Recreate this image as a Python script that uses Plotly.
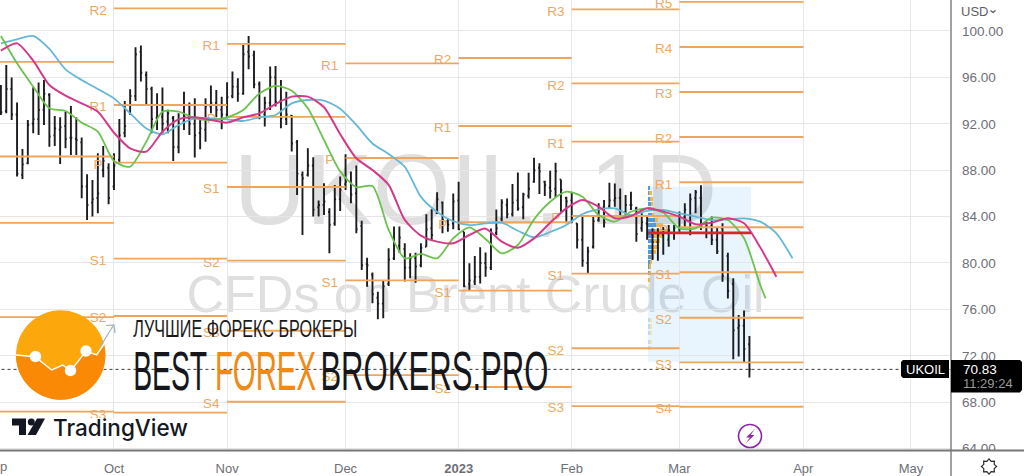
import numpy as np
import plotly.graph_objects as go

# ---------- data ----------
highs = [95.35,97.07,95.98,93.83,89.83,92.33,95.15,95.55,95.78,94.63,92.68,92.56,93.05,93.54,92.56,90.81,87.65,87.16,89.46,90.09,88.6,
89.46,92.42,93.97,94.98,98.6,98.74,96.5,95.2,94.63,95.12,93.2,92.68,92.9,94.77,93.83,94.2,92.39,94.2,95.29,94.92,94.34,
95.58,96.5,95.92,98.8,99.57,98.3,95.64,94.34,96.93,96.99,95.78,94.77,92.76,90.6,87.88,89.89,89.11,85.38,86.87,84.72,86.73,87.45,
89.37,87.88,88.4,83.65,80.46,79.17,77.53,78.54,81.27,83.14,83.14,81.7,80.84,80.89,81.7,84.2,84.63,86.1,85.3,83.85,86.0,
87.0,82.7,79.97,80.6,81.35,80.9,82.98,84.62,85.5,85.57,86.8,87.8,86.06,87.78,89.08,88.6,87.1,87.96,88.65,87.2,85.71,
86.15,83.42,84.13,81.4,84.05,85.14,85.43,86.92,86.86,86.43,85.86,86.15,84.85,84.28,84.0,83.0,83.0,83.1,83.28,83.28,
84.43,85.15,86.0,86.3,86.7,83.57,84.0,83.1,83.42,80.89,78.68,75.52,75.9,73.7]
lows = [92.76,92.9,92.33,87.45,87.25,88.51,91.18,91.04,91.9,90.03,90.09,88.54,89.89,89.31,89.31,85.58,83.71,84.0,84.29,87.39,85.06,
86.3,88.65,90.84,92.76,93.97,95.64,93.6,91.18,91.47,91.18,91.18,88.8,89.46,91.47,91.04,89.1,89.8,90.46,92.9,92.56,91.53,
92.48,94.2,93.9,94.5,96.7,95.06,92.39,91.76,93.19,93.48,91.61,91.9,89.6,85.87,82.42,87.45,84.0,84.0,84.14,80.84,83.22,84.49,
86.3,85.15,82.56,79.4,77.96,76.53,75.15,75.23,78.02,80.26,80.89,78.4,78.68,78.3,79.63,81.4,81.99,84.23,82.56,82.7,82.9,
82.85,77.9,77.67,78.1,78.24,78.82,79.4,82.4,83.56,83.85,84.0,84.5,83.76,85.57,86.92,85.94,85.77,85.57,85.66,84.42,83.42,
83.42,81.26,79.68,79.1,81.26,83.56,83.07,84.71,84.85,84.13,84.0,84.57,81.84,82.7,82.0,80.26,80.2,80.7,81.4,82.0,
82.7,83.13,82.4,84.28,82.85,82.13,81.55,80.78,78.39,76.95,71.7,71.93,71.4,70.14]
opens = [93.8,93.1,95.0,92.8,87.6,88.6,92.0,92.4,93.2,94.5,91.0,91.5,91.8,90.8,90.7,90.4,86.6,85.2,85.6,88.0,88.2,
86.6,88.9,91.2,93.0,94.4,98.2,96.2,95.0,92.5,92.6,92.2,92.5,90.0,92.2,92.5,92.0,91.2,91.5,93.5,93.8,93.2,
92.8,94.4,95.2,94.6,98.2,97.9,95.4,92.8,93.8,96.0,94.0,92.4,92.7,90.4,87.6,87.6,88.4,84.8,85.0,84.4,83.4,85.5,
86.8,87.0,86.0,83.2,79.9,79.0,77.0,76.5,78.2,80.4,81.5,81.2,79.6,80.4,79.8,81.4,83.0,84.3,85.2,83.6,83.4,
85.4,82.7,78.2,78.4,78.8,80.0,79.6,82.6,83.8,85.0,84.2,85.4,84.8,85.8,87.0,88.2,87.0,86.5,86.4,87.2,85.6,
85.4,83.4,82.0,80.0,81.4,83.7,84.8,84.9,85.4,85.6,84.4,85.0,84.7,83.0,83.4,82.5,81.8,82.4,82.0,82.6,
83.0,84.0,83.6,85.6,85.6,83.1,83.2,82.0,83.0,80.6,78.2,74.4,74.6,73.0]
closes = [93.0,95.0,92.8,87.7,88.5,91.9,92.4,93.2,94.6,90.9,91.6,91.7,90.7,90.8,90.6,86.6,85.0,85.5,86.0,88.8,85.6,
88.4,91.0,91.8,94.4,98.0,96.4,95.0,92.4,92.6,92.0,92.9,90.0,92.0,92.6,92.0,91.0,91.6,93.5,93.8,93.2,92.8,
94.3,95.2,94.6,98.0,97.8,95.4,92.6,93.8,96.0,93.9,92.5,92.8,90.3,87.7,87.3,88.4,84.6,85.0,85.3,83.3,85.5,86.3,
87.0,85.9,82.9,79.8,79.8,77.3,76.5,78.0,80.3,81.6,82.2,79.6,80.4,79.7,81.3,82.9,82.4,85.5,83.7,83.3,85.3,
82.9,78.0,78.5,78.8,80.0,79.6,82.6,83.0,85.2,84.2,85.2,84.7,85.9,86.4,88.0,87.9,86.7,86.2,87.9,86.3,85.3,
83.9,82.0,80.2,81.0,83.6,84.8,83.5,85.4,85.6,84.5,85.0,85.0,82.5,83.5,82.5,81.8,82.4,82.6,82.8,83.0,
84.0,84.6,85.5,86.1,83.2,83.2,82.0,81.0,78.9,77.6,74.2,74.6,72.6,70.83]

ma_idx = list(range(0, 148, 3))
ma_blue = [98.93,99.28,99.57,98.45,96.69,95.77,95.0,94.19,92.9,91.6,91.09,91.9,92.47,92.47,92.38,92.24,92.56,92.76,93.76,94.05,94.0,
           93.3,91.9,90.3,89.4,88.3,85.7,84.4,83.6,83.27,83.42,83.47,82.78,82.2,82.67,83.27,84.22,84.62,84.7,84.13,84.5,84.57,84.28,84.0,83.7,83.77,83.85,83.56,82.56,80.4]
ma_pink = [98.3,98.93,97.44,95.34,94.42,93.76,93.04,91.23,89.88,89.6,91.32,92.38,92.56,92.33,92.1,92.56,92.9,93.7,94.34,94.34,93.42,
           91.1,89.03,88.02,86.73,83.71,82.36,81.84,81.7,82.41,82.96,81.84,81.32,82.12,83.47,84.71,85.43,84.85,83.85,84.05,84.71,84.43,84.0,83.33,83.48,83.85,83.42,81.35,78.82]
ma_green = [99.57,97.21,95.2,93.33,93.1,92.1,91.32,88.79,88.3,90.46,93.04,93.04,92.47,92.33,92.56,93.19,94.62,95.26,94.85,93.33,90.6,
            87.9,86.53,86.64,82.85,80.4,80.78,80.4,82.13,83.07,82.07,80.83,81.55,83.76,85.28,86.15,85.71,84.13,83.56,84.42,84.71,84.34,82.99,82.99,83.91,83.71,82.13,78.1]
ma_green_end = [142, 76.95]

month_names = ["Oct", "Nov", "Dec", "<b>2023</b>", "Feb", "Mar", "Apr", "May"]
month_idx = [21, 42, 64, 85, 106, 126, 149, 169]
price_ticks = [64, 68, 72, 76, 80, 84, 88, 92, 96, 100]

pivot_months = [
    (-1, 21, [], [97.33, 89.18, 83.45, 75.34, 67.18]),
    (21, 42, ["R2","R1","P","S1","S2","S3"], [101.94, 93.62, 88.66, 80.37, 75.43, 67.11]),
    (42, 64, ["R1","P","S1","S2","S3","S4"], [98.88, 92.59, 86.55, 80.2, 74.16, 68.04]),
    (64, 85, ["R1","P","S1","S2"], [97.2, 89.05, 78.51, 70.34]),
    (85, 106, ["R2","R1","P","S1","S2"], [97.67, 91.81, 83.51, 77.61, 69.31]),
    (106, 126, ["R3","R2","R1","P","S1","S2","S3"], [101.87, 95.49, 90.46, 84.05, 79.08, 72.65, 67.67]),
    (126, 149, ["R5","R4","R3","R2","R1","P","S1","S2","S3","S4"], [102.5, 98.62, 94.74, 90.86, 86.96, 83.08, 79.2, 75.28, 71.44, 67.61]),
]

vp_start = 120.17
vp_end = 139.3
vp_top = 86.58
vp_bottom = 71.49
poc_price = 82.6
vp_prices = [86.44,86.0,85.55,85.09,84.63,84.17,83.71,83.25,82.79,82.33,81.87,81.41,80.95,80.49,80.09,79.7,79.11,78.54,77.96,75.09,74.52,73.94,73.22,72.64]
vp_blue = [.19,.25,.37,.5,.62,.87,1.36,1.55,1.24,1.11,.93,.87,.74,.5,.37,.25,.19,.12,.12,.31,.31,.31,.31,.25]
vp_yellow = [0,.5,.5,.5,.43,.31,.5,1.24,2.79,1.86,1.24,1.11,.74,.62,.37,.25,.19,.12,.12,.5,.5,.5,.5,.37]
last_price = 70.83

# ---------- helpers ----------
W, H_PLOT = 951.0, 450.0
def px(x): return x / W
def py(y): return (H_PLOT - y) / H_PLOT
def poly(pts, close=True):
    s = "M " + " L ".join(f"{px(a):.5f},{py(b):.5f}" for a, b in pts)
    return s + (" Z" if close else "")
def pshape(pts, fill=None, line=None, lw=0, close=True, layer="above"):
    d = dict(type="path", xref="paper", yref="paper", path=poly(pts, close), layer=layer,
             line=dict(color=line or "rgba(0,0,0,0)", width=lw))
    if fill: d["fillcolor"] = fill
    return d
def circle(cx, cy, r, fill=None, line=None, lw=0):
    d = dict(type="circle", xref="paper", yref="paper", x0=px(cx-r), x1=px(cx+r), y0=py(cy+r), y1=py(cy-r),
             layer="above", line=dict(color=line or "rgba(0,0,0,0)", width=lw))
    if fill: d["fillcolor"] = fill
    return d
def rect(x0, y0, x1, y1, fill, layer="above"):
    return dict(type="rect", xref="paper", yref="paper", x0=px(x0), x1=px(x1), y0=py(y1), y1=py(y0),
                layer=layer, fillcolor=fill, line=dict(width=0))
def text(s, x, y, size, color, anchor="center", family="Liberation Sans", weight=None):
    f = dict(size=size, color=color, family=family)
    if weight: f["weight"] = weight
    return dict(text=s, xref="paper", yref="paper", x=px(x), y=py(y), xanchor=anchor, yanchor="middle",
                showarrow=False, font=f, borderpad=0, borderwidth=0)

ORANGE = "#F0A55C"
ORANGE_TXT = "#EDA961"
fig = go.Figure()

# volume profile
strong = [p > 78 for p in vp_prices]
fig.add_trace(go.Bar(orientation="h", y=vp_prices, x=vp_blue, base=[vp_start]*len(vp_prices), width=0.36,
                     marker=dict(color=["#4C9CE2" if s else "#BBDBF2" for s in strong], line=dict(width=0)),
                     hoverinfo="skip"))
fig.add_trace(go.Bar(orientation="h", y=vp_prices, x=vp_yellow,
                     base=[vp_start+b for b in vp_blue], width=0.36,
                     marker=dict(color=["#F2B544" if s else "#F7E2AE" for s in strong], line=dict(width=0)),
                     hoverinfo="skip"))

# OHLC bars
fig.add_trace(go.Ohlc(x=list(range(len(opens))), open=opens, high=highs, low=lows, close=closes, tickwidth=0.25,
                      increasing=dict(line=dict(color="#1c1c20", width=1.9)),
                      decreasing=dict(line=dict(color="#1c1c20", width=1.9)), hoverinfo="skip"))

# pivot segments and labels
for x0, x1, names, levels in pivot_months:
    xs, ys = [], []
    for lv in levels:
        xs += [x0, x1, None]; ys += [lv, lv, None]
    fig.add_trace(go.Scatter(x=xs, y=ys, mode="lines", line=dict(color=ORANGE, width=1.8), hoverinfo="skip"))
    if names:
        fig.add_trace(go.Scatter(x=[x0 - 2.95]*len(names), y=[lv - 0.25 for lv in levels], mode="text", text=names,
                                 textposition="middle center", cliponaxis=True,
                                 textfont=dict(size=13.5, color=ORANGE_TXT, family="Liberation Sans"), hoverinfo="skip"))

# moving averages
fig.add_trace(go.Scatter(x=ma_idx[:len(ma_blue)], y=ma_blue, mode="lines",
                         line=dict(color="#66B7D8", width=1.8, shape="spline", smoothing=0.7), hoverinfo="skip"))
fig.add_trace(go.Scatter(x=ma_idx[:len(ma_green)]+[ma_green_end[0]], y=ma_green+[ma_green_end[1]], mode="lines",
                         line=dict(color="#6CC24E", width=1.8, shape="spline", smoothing=0.7), hoverinfo="skip"))
fig.add_trace(go.Scatter(x=ma_idx[:len(ma_pink)], y=ma_pink, mode="lines",
                         line=dict(color="#D43A88", width=2, shape="spline", smoothing=0.7), hoverinfo="skip"))
# POC
fig.add_trace(go.Scatter(x=[vp_start, vp_end], y=[poc_price, poc_price], mode="lines",
                         line=dict(color="#D9252F", width=2.6), hoverinfo="skip"))
# last price dotted
fig.add_trace(go.Scatter(x=[-1, 177], y=[last_price, last_price], mode="lines",
                         line=dict(color="#3a3a3a", width=1, dash="dot"), hoverinfo="skip"))

# ---------- shapes ----------
shapes = []
# watermark (below traces)
shapes.append(dict(type="rect", xref="paper", yref="paper", x0=0, x1=1, y0=py(230), y1=py(130), layer="below",
                   line=dict(width=0), fillcolor="rgba(0,0,0,0)",
                   label=dict(text="UKOIL, 1D", textposition="middle center",
                              font=dict(size=100, color="rgba(110,110,110,0.22)", family="Liberation Sans"))))
shapes.append(dict(type="rect", xref="paper", yref="paper", x0=0, x1=1, y0=py(321), y1=py(256), layer="below",
                   line=dict(width=0), fillcolor="rgba(0,0,0,0)",
                   label=dict(text="CFDs on Brent Crude Oil", textposition="middle center",
                              font=dict(size=52, color="rgba(110,110,110,0.22)", family="Liberation Sans"))))
# volume profile area
shapes.append(dict(type="rect", xref="x", yref="y", x0=vp_start, x1=vp_end, y0=vp_bottom, y1=vp_top, layer="below",
                   fillcolor="rgba(33,150,243,0.10)", line=dict(width=0)))

# clip bottom of price scale
shapes.append(rect(952, 450, 1024, 476, "#ffffff"))
# axis borders
shapes.append(dict(type="line", xref="paper", yref="paper", x0=px(951), x1=px(951), y0=py(476), y1=py(0), layer="above",
                   line=dict(color="#8a8a8a", width=1.6)))
shapes.append(dict(type="line", xref="paper", yref="paper", x0=0, x1=px(1024), y0=py(450.5), y1=py(450.5), layer="above",
                   line=dict(color="#777777", width=1.8)))
# price tags
shapes.append(dict(type="path", xref="paper", yref="paper", layer="above", fillcolor="#000000", line=dict(width=0),
                   path=poly([(951,360),(1020,360),(1022,362),(1022,390),(1020,392.5),(951,392.5)])))
shapes.append(dict(type="path", xref="paper", yref="paper", layer="above", fillcolor="#000000", line=dict(width=0),
                   path=poly([(903,360),(949,360),(949,378),(903,378),(901,376),(901,362)])))
# USD chevron
shapes.append(pshape([(990.5,10.5),(993,12.5),(995.5,10.5)], line="#555555", lw=1.2, close=False))
# gear
ang = np.linspace(0, 2*np.pi, 16, endpoint=False)
shapes.append(pshape([(989+(7.6 if k % 2 == 0 else 5.6)*np.cos(a), 466.5+(7.6 if k % 2 == 0 else 5.6)*np.sin(a))
                      for k, a in enumerate(ang)], line="#2b2b2b", lw=1.2))
# lightning
shapes.append(circle(750, 436, 11.5, line="#8E24AA", lw=1.6, fill="#ffffff"))
shapes.append(pshape([(755,429),(746,437.5),(750,437.5),(745.5,443.5),(754.5,435),(750.5,435)], fill="#8E24AA"))

# logo
cx, cy, r = 60.7, 355.0, 44.7
zig = [(16,355),(35,356.7),(51.7,370),(62.7,365),(70.7,370.7),(86,351),(96.7,355),(104,344)]
shapes.append(circle(cx, cy, r, fill="#FCA70C"))
a0 = np.arctan2(zig[-1][1]-cy, zig[-1][0]-cx)
a1 = np.pi
arc = [(cx+r*np.cos(t), cy+r*np.sin(t)) for t in np.linspace(a0, a1, 50)]
shapes.append(pshape(zig + arc, fill="#FA8A05"))
shapes.append(pshape(zig, line="#ffffff", lw=1.4, close=False))
shapes.append(pshape([(100,347),(113,326)], line="#9FB0BD", lw=1.2, close=False))
shapes.append(pshape([(106,325.5),(114,325),(115,333)], line="#9FB0BD", lw=1.2, close=False))
for dx, dy in [(35.5,356.5),(70.5,370.5),(86,351)]:
    shapes.append(circle(dx, dy, 5.7, fill="#ffffff"))

# TradingView mark with its white backdrop
shapes.append(rect(50, 418, 113.5, 438, "#ffffff"))
TV = "#131722"
shapes.append(pshape([(12,418.5),(26,418.5),(26,435),(19,435),(19,425.5),(12,425.5)], fill=TV))
shapes.append(circle(31.3, 422, 3.5, fill=TV))
shapes.append(pshape([(37,418.5),(45,418.5),(36,435),(27.5,435)], fill=TV))

# ---------- text ----------
ann = [
    text("Sep", -4.5, 467, 13, "#6E6F76"),
    text("USD", 974.5, 12, 13, "#5E5F66"),
    text("UKOIL", 925, 369, 13, "#ffffff"),
    text("70.83", 963, 369, 13.5, "#ffffff", anchor="left"),
    text("11:29:24", 963, 383, 13, "#9a9a9a", anchor="left"),
    text("ЛУЧШИЕ ФОРЕКС БРОКЕРЫ", 245, 328.5, 24, "#1a1a1a"),
    text("BEST", 170, 370, 56, "#15171c"),
    text("FOREX", 265, 370, 56, "#F08A14"),
    text("BROKERS.PRO", 434, 370, 56, "#15171c"),
    text("TradingView", 120.5, 427, 22.5, TV, family="Inter", weight=500),
]

fig.update_layout(
    width=1024, height=476, autosize=False,
    margin=dict(l=0, r=73, t=0, b=26, pad=0),
    paper_bgcolor="#ffffff", plot_bgcolor="#ffffff",
    showlegend=False, barmode="overlay", bargap=0,
    shapes=shapes, annotations=ann,
    font=dict(family="Liberation Sans"),
    xaxis=dict(range=[-0.167, 176.43], tickmode="array", tickvals=month_idx, ticktext=month_names,
               showgrid=True, gridcolor="#E6E6E8", gridwidth=1, zeroline=False, showline=False, ticks="",
               rangeslider=dict(visible=False), fixedrange=True, ticklabelstandoff=9,
               tickfont=dict(size=13, color="#6E6F76", family="Liberation Sans")),
    yaxis=dict(range=[63.88, 102.67], side="right", tickmode="array", tickvals=price_ticks, tickformat=".2f",
               showgrid=True, gridcolor="#E6E6E8", gridwidth=1, zeroline=False, showline=False, ticks="",
               fixedrange=True, ticklabelstandoff=10,
               tickfont=dict(size=13.5, color="#6E6F76", family="Liberation Sans")),
)

post = """
document.documentElement.style.margin='0';
document.body.style.margin='0';
document.body.style.overflow='hidden';
function squeeze(){
  var want={"ЛУЧШИЕ ФОРЕКС БРОКЕРЫ":224,"BEST":74,"FOREX":101,"BROKERS.PRO":228};
  document.querySelectorAll('.annotation-text').forEach(function(t){
    var k=t.textContent; if(want[k]){t.setAttribute('textLength',want[k]);t.setAttribute('lengthAdjust','spacingAndGlyphs');}
  });
}
squeeze(); setTimeout(squeeze,50); setTimeout(squeeze,300);
"""
fig.write_html("out.html", post_script=post, config=dict(displayModeBar=False))
